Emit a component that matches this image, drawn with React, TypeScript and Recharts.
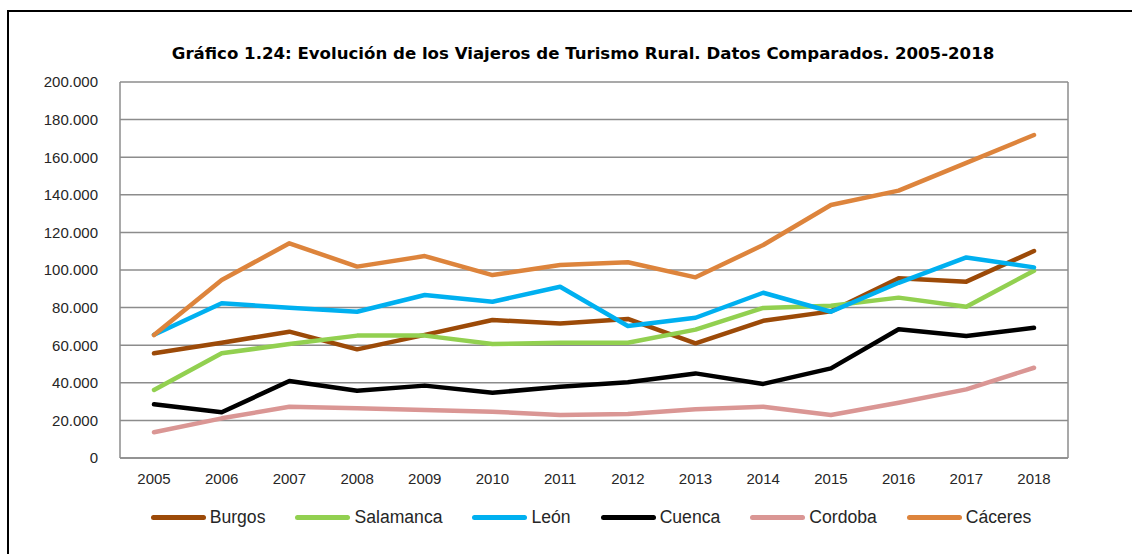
import { LineChart, Line, XAxis, YAxis, CartesianGrid, Legend } from 'recharts'

const years = ['2005', '2006', '2007', '2008', '2009', '2010', '2011', '2012', '2013', '2014', '2015', '2016', '2017', '2018']

const burgos = [55700, 61300, 67200, 57800, 65500, 73400, 71600, 74000, 61000, 73000, 78000, 95600, 93800, 110100]
const salamanca = [36200, 55700, 60600, 65100, 65100, 60600, 61300, 61300, 68300, 79800, 81000, 85300, 80500, 99600]
const leon = [65600, 82300, 79900, 77800, 86700, 83100, 91100, 70200, 74600, 87900, 77800, 93200, 106700, 101400]
const cuenca = [28600, 24300, 41000, 35800, 38500, 34700, 37900, 40300, 45000, 39400, 47700, 68500, 64900, 69300]
const cordoba = [13700, 21100, 27300, 26400, 25500, 24600, 22900, 23400, 25900, 27300, 22900, 29400, 36500, 48000]
const caceres = [65400, 94700, 114200, 101800, 107400, 97300, 102700, 104100, 96100, 113300, 134600, 142200, 157000, 171800]

const yTicks = [0, 20000, 40000, 60000, 80000, 100000, 120000, 140000, 160000, 180000, 200000]

const series = [
  { key: 'burgos', name: 'Burgos', color: '#9c4a08', values: burgos },
  { key: 'salamanca', name: 'Salamanca', color: '#92d050', values: salamanca },
  { key: 'leon', name: 'León', color: '#00b0f0', values: leon },
  { key: 'cuenca', name: 'Cuenca', color: '#000000', values: cuenca },
  { key: 'cordoba', name: 'Cordoba', color: '#da9694', values: cordoba },
  { key: 'caceres', name: 'Cáceres', color: '#dd843c', values: caceres },
]

const data = years.map((year, i) => {
  const row: Record<string, string | number> = { year }
  series.forEach((s) => {
    row[s.key] = s.values[i]
  })
  return row
})

const fmt = (v: number) => String(v).replace(/\B(?=(\d{3})+(?!\d))/g, '.')

const tickFont = { fill: '#262626', fontSize: 15, fontFamily: 'Liberation Sans, Arial, sans-serif' }
const gridColor = '#8c8c8c'

// keep legend in series order (recharts sorts it by name otherwise)
function LegendContent(props: any) {
  const order = series.map((s) => s.name)
  const items = [...(props.payload || [])].sort((a: any, b: any) => order.indexOf(a.value) - order.indexOf(b.value))
  return (
    <div style={{ display: 'flex', justifyContent: 'center', alignItems: 'center' }}>
      {items.map((it: any) => (
        <div key={it.value} style={{ display: 'flex', alignItems: 'center', marginRight: 30 }}>
          <span style={{ display: 'inline-block', width: 55, height: 5, borderRadius: 3, background: it.color, marginRight: 4 }} />
          <span style={{ fontSize: 17.6, color: '#262626', fontFamily: 'Liberation Sans, Arial, sans-serif' }}>{it.value}</span>
        </div>
      ))}
    </div>
  )
}

export default function App() {
  return (
    <div style={{ position: 'absolute', left: 0, top: 0, width: 1132, height: 554, background: '#fff', overflow: 'hidden' }}>
      <div
        style={{
          position: 'absolute',
          left: 7,
          top: 10,
          width: 2000,
          height: 1000,
          borderLeft: '2px solid #000',
          borderTop: '2px solid #000',
        }}
      />
      <div
        style={{
          position: 'absolute',
          left: 0,
          top: 44,
          width: 1166,
          textAlign: 'center',
          fontFamily: 'DejaVu Sans, Verdana, sans-serif',
          fontWeight: 'bold',
          fontSize: 16.6,
          color: '#000',
        }}
      >
        Gráfico 1.24: Evolución de los Viajeros de Turismo Rural. Datos Comparados. 2005-2018
      </div>
      <div style={{ position: 'absolute', left: 0, top: 0 }}>
        {/* bottom margin leaves room for the 30px x-axis band */}
        <LineChart width={1132} height={554} data={data} margin={{ top: 82, right: 63, bottom: 66, left: 0 }}>
          <CartesianGrid vertical={false} stroke={gridColor} strokeWidth={1.5} />
          <XAxis
            dataKey="year"
            padding={{ left: 34, right: 34 }}
            tick={tickFont}
            tickLine={false}
            tickMargin={9}
            axisLine={{ stroke: gridColor, strokeWidth: 1.5 }}
            interval={0}
          />
          <YAxis
            domain={[0, 200000]}
            ticks={yTicks}
            tickFormatter={fmt}
            tick={tickFont}
            tickLine={false}
            tickMargin={16}
            width={120}
            axisLine={{ stroke: gridColor, strokeWidth: 1.5 }}
          />
          <YAxis
            yAxisId="right"
            orientation="right"
            domain={[0, 200000]}
            tick={false}
            tickLine={false}
            width={1}
            axisLine={{ stroke: gridColor, strokeWidth: 1.5 }}
          />
          <Legend
            layout="horizontal"
            verticalAlign="middle"
            align="center"
            content={<LegendContent />}
            wrapperStyle={{ top: 507, left: 117, width: 978, bottom: 'auto' }}
          />
          {series.map((s) => (
            <Line
              key={s.key}
              type="linear"
              dataKey={s.key}
              name={s.name}
              stroke={s.color}
              strokeWidth={4.5}
              strokeLinecap="round"
              strokeLinejoin="round"
              dot={false}
              activeDot={false}
              isAnimationActive={false}
            />
          ))}
        </LineChart>
      </div>
    </div>
  )
}
